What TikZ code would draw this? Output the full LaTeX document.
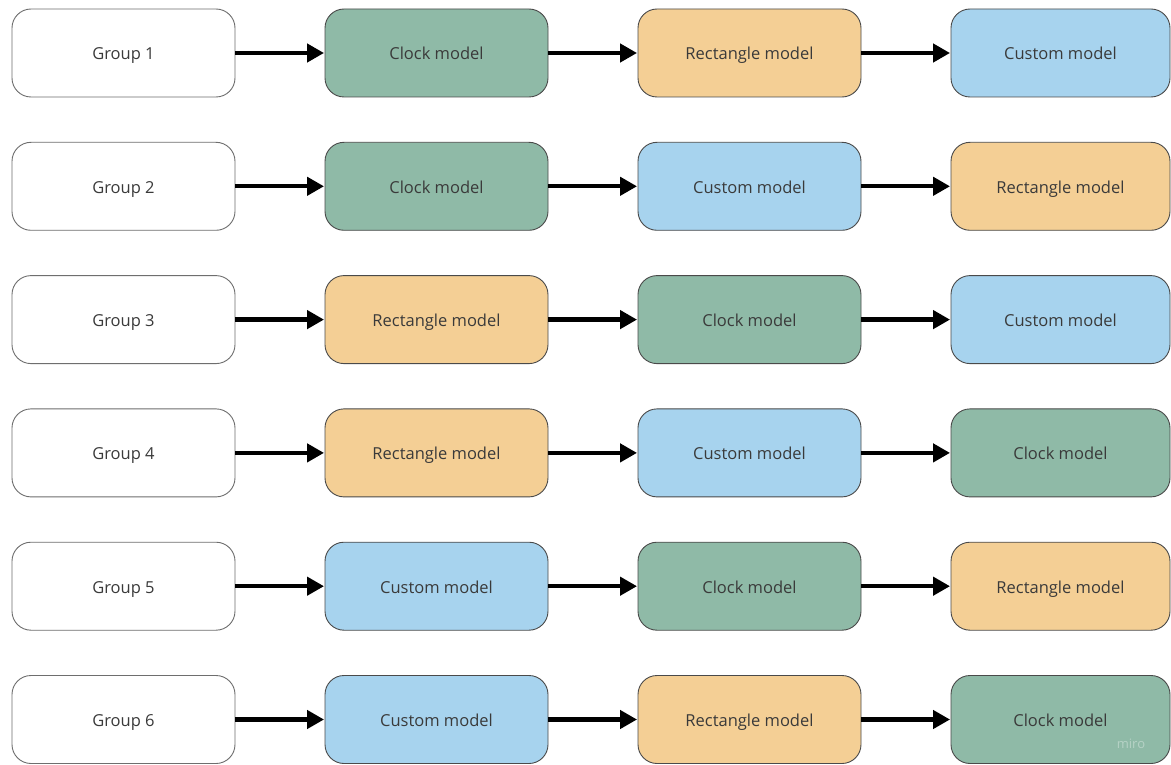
\documentclass[tikz,border=0pt]{standalone}
\usepackage{fontspec}
\setmainfont{Open Sans}
\usetikzlibrary{arrows.meta}
\definecolor{clockc}{HTML}{8FBAA7}
\definecolor{rectc}{HTML}{F4CF95}
\definecolor{custc}{HTML}{A7D3EE}
\definecolor{txt}{HTML}{3A3A3A}
\definecolor{bord}{HTML}{4A4A4A}
\tikzset{
  box/.style={draw=bord, line width=0.9pt, rounded corners=19pt, minimum width=223pt, minimum height=88pt, inner sep=0pt, text height=16pt, text depth=2pt, font=\fontsize{16.5}{20}\selectfont, text=txt},
  groupbox/.style={box, fill=white, draw=bord!80},
  clock/.style={box, fill=clockc},
  rect/.style={box, fill=rectc},
  cust/.style={box, fill=custc},
  lastcol/.style={minimum width=219pt},
  link/.style={line width=4.3pt, -{Triangle[length=17pt,width=18pt]}, black, shorten >=0.5pt}
}
\begin{document}
\begin{tikzpicture}[x=1pt,y=-1pt]
\useasboundingbox (0,0) rectangle (1171,765);
\fill[white] (0,0) rectangle (1171,765);
\node[groupbox] (g1) at (123.5,53) {Group 1};
\node[clock] (a1) at (436.5,53) {Clock model};
\node[rect] (b1) at (749.5,53) {Rectangle model};
\node[cust,lastcol] (c1) at (1060.5,53) {Custom model};

\node[groupbox] (g2) at (123.5,186.3) {Group 2};
\node[clock] (a2) at (436.5,186.3) {Clock model};
\node[cust] (b2) at (749.5,186.3) {Custom model};
\node[rect,lastcol] (c2) at (1060.5,186.3) {Rectangle model};

\node[groupbox] (g3) at (123.5,319.6) {Group 3};
\node[rect] (a3) at (436.5,319.6) {Rectangle model};
\node[clock] (b3) at (749.5,319.6) {Clock model};
\node[cust,lastcol] (c3) at (1060.5,319.6) {Custom model};

\node[groupbox] (g4) at (123.5,452.9) {Group 4};
\node[rect] (a4) at (436.5,452.9) {Rectangle model};
\node[cust] (b4) at (749.5,452.9) {Custom model};
\node[clock,lastcol] (c4) at (1060.5,452.9) {Clock model};

\node[groupbox] (g5) at (123.5,586.2) {Group 5};
\node[cust] (a5) at (436.5,586.2) {Custom model};
\node[clock] (b5) at (749.5,586.2) {Clock model};
\node[rect,lastcol] (c5) at (1060.5,586.2) {Rectangle model};

\node[groupbox] (g6) at (123.5,719.5) {Group 6};
\node[cust] (a6) at (436.5,719.5) {Custom model};
\node[rect] (b6) at (749.5,719.5) {Rectangle model};
\node[clock,lastcol] (c6) at (1060.5,719.5) {Clock model};

\foreach \i in {1,...,6}{
  \draw[link] (g\i) -- (a\i);
  \draw[link] (a\i) -- (b\i);
  \draw[link] (b\i) -- (c\i);
}
\node[font=\fontsize{13}{15}\selectfont, text=white, opacity=0.35] (miro) at (1131,744) {miro};
\end{tikzpicture}
\end{document}
